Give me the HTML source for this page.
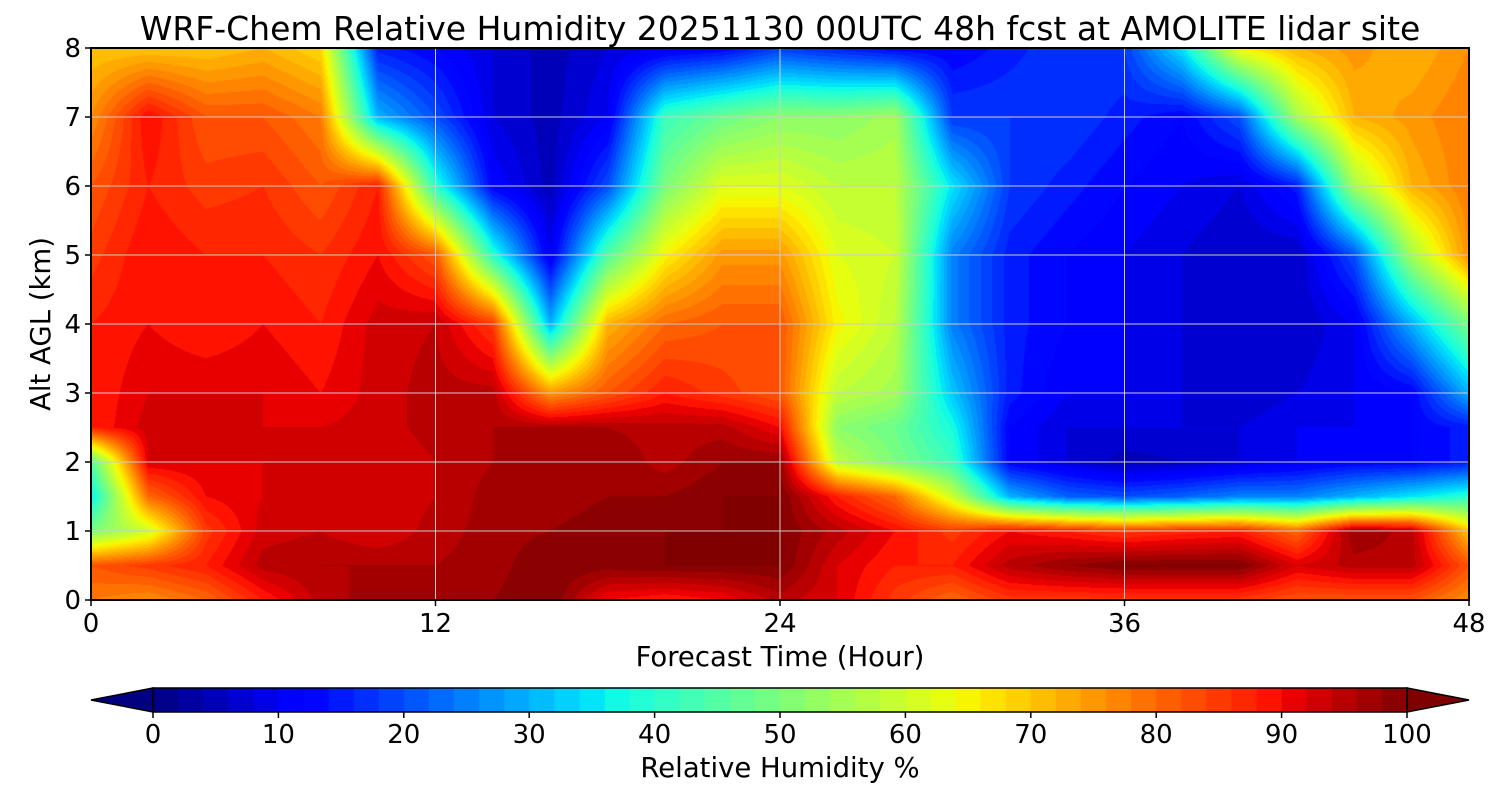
<!DOCTYPE html>
<html><head><meta charset="utf-8"><style>
body{margin:0;background:#fff;font-family:"DejaVu Sans","Liberation Sans",sans-serif;}
#wrap{position:relative;width:1500px;height:800px;overflow:hidden;}
canvas{position:absolute;}
</style></head><body>
<div id="wrap">
<canvas id="heat" width="1378" height="552" style="left:91px;top:48px"></canvas>
<canvas id="cbar" width="1254" height="24" style="left:153px;top:688px"></canvas>
<svg id="ov" width="1500" height="800" style="position:absolute;left:0;top:0;font-family:'DejaVu Sans','Liberation Sans',sans-serif"></svg>
</div>
<script>
const hours=[0,2,4,6,8,10,12,14,16,18,20,22,24,26,28,30,32,34,36,38,40,42,44,46,48];
const alts=[0,0.5,1,1.5,2,2.5,3,4,5,6,7,8];
const rh=[
[78,82,50,35,45,88,88,88,85,82,76,70],
[76,85,60,80,92,93,92,90,90,88,90,70],
[80,88,85,90,92,93,92,88,88,85,82,70],
[88,95,93,92,92,92,92,90,88,86,82,72],
[95,96,94,93,92,92,90,88,86,82,78,68],
[97,96,92,92,92,93,93,93,90,88,30,15],
[97,96,95,94,94,95,95,94,82,40,20,12],
[98,97,97,97,96,96,95,85,40,12,8,8],
[100,100,98,97,97,96,75,30,10,5,5,5],
[90,99,99,98,98,96,82,72,45,20,10,8],
[88,100,100,98,95,95,88,80,65,50,42,10],
[90,100,100,100,98,95,85,82,75,62,48,12],
[95,100,100,100,98,90,82,82,75,62,52,18],
[92,92,95,88,58,52,58,65,62,58,52,15],
[85,88,90,80,50,48,55,58,60,58,55,12],
[80,88,85,60,42,38,32,25,25,35,18,12],
[85,95,90,30,12,12,15,15,15,18,18,15],
[85,98,88,22,8,8,10,12,12,15,18,18],
[85,100,85,20,5,8,10,10,10,12,15,18],
[85,100,87,22,6,8,8,8,8,10,12,35],
[85,100,88,25,8,8,6,6,6,8,20,65],
[82,92,80,25,10,10,8,6,6,15,55,72],
[82,95,98,30,12,10,10,10,20,55,72,75],
[82,95,95,35,12,12,12,30,55,72,75,72],
[76,82,70,40,15,15,30,50,76,78,78,76]];
const xTicks=[0,12,24,36,48];
const yTicks=[0,1,2,3,4,5,6,7,8];
const cbTicks=[0,10,20,30,40,50,60,70,80,90,100];

const X0=91,X1=1469,Y0=600,Y1=48;
const xs=h=>X0+(h/48)*(X1-X0);
const ys=a=>Y0-(a/8)*(Y0-Y1);
function seg(p,v){for(let i=0;i<p.length-1;i++){if(v<=p[i+1][0]){const t=(v-p[i][0])/(p[i+1][0]-p[i][0]);return p[i][1]+t*(p[i+1][1]-p[i][1]);}}return p[p.length-1][1];}
const R=[[0,0],[0.35,0],[0.66,1],[0.89,1],[1,0.5]];
const G=[[0,0],[0.125,0],[0.375,1],[0.64,1],[0.91,0],[1,0]];
const B=[[0,0.5],[0.11,1],[0.34,1],[0.65,0],[1,0]];
function jet(v){v=Math.max(0,Math.min(1,v));return [seg(R,v),seg(G,v),seg(B,v)].map(c=>Math.round(c*255));}
function interp(arr,x){let i=0;while(i<arr.length-2&&x>arr[i+1])i++;return [i,(x-arr[i])/(arr[i+1]-arr[i])];}
function val(h,a){const [i,tx]=interp(hours,h),[j,ty]=interp(alts,a);
 const v00=rh[i][j],v10=rh[i+1][j],v01=rh[i][j+1],v11=rh[i+1][j+1];
 return (v00*(1-tx)+v10*tx)*(1-ty)+(v01*(1-tx)+v11*tx)*ty;}
const hc=document.getElementById('heat'),ctx=hc.getContext('2d');
const W=hc.width,H=hc.height,img=ctx.createImageData(W,H);
for(let py=0;py<H;py++){const a=(H-py-0.5)/H*8;
 for(let px=0;px<W;px++){const h=(px+0.5)/W*48;
  let v=val(h,a);v=Math.floor(v/2)*2+1;const c=jet(v/100);
  const k=(py*W+px)*4;img.data[k]=c[0];img.data[k+1]=c[1];img.data[k+2]=c[2];img.data[k+3]=255;}}
ctx.putImageData(img,0,0);
const cc=document.getElementById('cbar'),c2=cc.getContext('2d');
for(let i=0;i<50;i++){const c=jet((i*2+1)/100);c2.fillStyle=`rgb(${c})`;c2.fillRect(i*1254/50,0,1254/50+1,24);}
const ov=document.getElementById('ov'),NS='http://www.w3.org/2000/svg';
function mk(t,at,txt){const e=document.createElementNS(NS,t);for(const k in at)e.setAttribute(k,at[k]);if(txt!==undefined)e.textContent=txt;ov.appendChild(e);return e;}
xTicks.forEach(t=>{const x=xs(t);
 const g=mk('line',{x1:x,x2:x,y1:Y1,y2:Y0,stroke:'#ccc','stroke-width':1});
 
 mk('line',{x1:x,x2:x,y1:Y0,y2:Y0+6,stroke:'#000','stroke-width':1.5});
 const l=mk('text',{x:x,y:632,'text-anchor':'middle','font-size':26},t);
 });
yTicks.forEach(t=>{const y=ys(t);
 const g=mk('line',{x1:X0,x2:X1,y1:y,y2:y,stroke:'#ccc','stroke-width':1});
 
 mk('line',{x1:X0-6,x2:X0,y1:y,y2:y,stroke:'#000','stroke-width':1.5});
 const l=mk('text',{x:X0-10,y:y+9,'text-anchor':'end','font-size':26},t);
 });
const fr=mk('rect',{x:X0,y:Y1,width:X1-X0,height:Y0-Y1,fill:'none',stroke:'#000','stroke-width':2});

const lo=jet(0),hi=jet(1);
mk('polygon',{points:'153,688 91,700 153,712',fill:`rgb(${lo})`,stroke:'#000','stroke-width':1.5});
mk('polygon',{points:'1407,688 1469,700 1407,712',fill:`rgb(${hi})`,stroke:'#000','stroke-width':1.5});
mk('rect',{x:153,y:688,width:1254,height:24,fill:'none',stroke:'#000','stroke-width':1.5});
cbTicks.forEach(t=>{const x=153+t/100*1254;
 mk('line',{x1:x,x2:x,y1:712,y2:718,stroke:'#000','stroke-width':1.5});
 const l=mk('text',{x:x,y:743,'text-anchor':'middle','font-size':26},t);
 });
let e;
e=mk('text',{x:780,y:40,'text-anchor':'middle','font-size':33},'WRF-Chem Relative Humidity 20251130 00UTC 48h fcst at AMOLITE lidar site');

e=mk('text',{x:780,y:666,'text-anchor':'middle','font-size':27.5},'Forecast Time (Hour)');

e=mk('text',{x:50,y:324,'text-anchor':'middle','font-size':27.5,transform:'rotate(-90 50 324)'},'Alt AGL (km)');

e=mk('text',{x:780,y:777,'text-anchor':'middle','font-size':27.5},'Relative Humidity %');

</script>
</body></html>
